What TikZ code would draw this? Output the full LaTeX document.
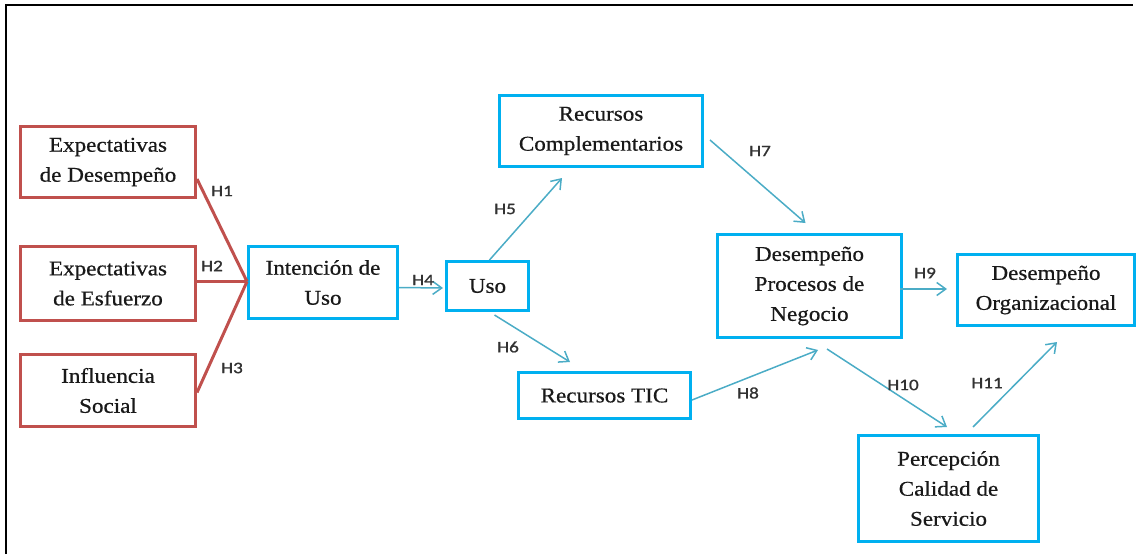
\documentclass[tikz,border=0pt]{standalone}
\usepackage{fontspec}
\setmainfont{Liberation Serif}[FakeStretch=1.1,FakeBold=0.6,AutoFakeBold=0.6]
\newfontfamily\labfont{Carlito}[FakeStretch=1.2,FakeBold=1.2]
\usetikzlibrary{arrows.meta,calc}
\definecolor{boxred}{RGB}{192,80,77}
\definecolor{boxblue}{RGB}{0,176,240}
\definecolor{linkblue}{RGB}{75,172,198}
\definecolor{labgray}{RGB}{50,50,50}
\begin{document}
\begin{tikzpicture}[x=1pt,y=-1pt,
  box/.style={draw, line width=3pt, inner sep=0pt, align=center,
    font=\fontsize{21}{30}\selectfont, text=black!90},
  redbox/.style={box, draw=boxred},
  bluebox/.style={box, draw=boxblue},
  link/.style={draw=linkblue, line width=1.5pt,
    -{Straight Barb[length=9pt,width=13pt]}},
  redlink/.style={draw=boxred, line width=3pt},
  hlab/.style={font=\labfont\fontsize{16}{17}\selectfont, text=labgray, inner sep=0pt}]

\useasboundingbox (0,0) rectangle (1142,554);

% open frame: top and left edges only
\draw[line width=2.5pt] (6,554) -- (6,5) -- (1133,5);

% antecedents (red)
\node[redbox, minimum width=175pt, minimum height=71pt] (ED) at (108,162) {Expectativas\\de Desempeño};
\node[redbox, minimum width=175pt, minimum height=74pt] (EE) at (108,283.5) {Expectativas\\de Esfuerzo};
\node[redbox, minimum width=175pt, minimum height=72pt] (IS) at (108,390.5) {Influencia\\Social};

% constructs (blue)
\node[bluebox, minimum width=149pt, minimum height=72pt] (IdU) at (323,282.5) {Intención de\\Uso};
\node[bluebox, minimum width=82pt, minimum height=49pt] (Uso) at (487.5,286) {Uso};
\node[bluebox, minimum width=203pt, minimum height=71pt] (RC) at (601,131) {Recursos\\Complementarios};
\node[bluebox, minimum width=172pt, minimum height=46pt] (RTIC) at (604.5,395.5) {Recursos TIC};
\node[bluebox, minimum width=184pt, minimum height=103pt] (DPN) at (809.5,286) {Desempeño\\Procesos de\\Negocio};
\node[bluebox, minimum width=177pt, minimum height=71pt] (DO) at (1046,290) {Desempeño\\Organizacional};
\node[bluebox, minimum width=180pt, minimum height=106pt] (PCS) at (948.5,488.5) {Percepción\\Calidad de\\Servicio};

% red links into Intención de Uso
\draw[redlink] ($(ED.east)+(0,17)$) -- ($(IdU.west)+(0,-1)$);
\draw[redlink] ($(EE.east)+(0,-2)$) -- ($(IdU.west)+(0,-1)$);
\draw[redlink] ($(IS.east)+(0,2)$) -- ($(IdU.west)+(0,-1)$);

% blue arrows
\draw[link] ($(IdU.east)+(0,5)$) -- ($(Uso.west)+(-2,2)$);
\draw[link] ($(Uso.north)+(2,0)$) -- ($(RC.south)+(-39,10)$);
\draw[link] ($(Uso.south)+(7,3)$) -- ($(RTIC.north)+(-34.5,-9)$);
\draw[link] ($(RC.east)+(6,9)$) -- ($(DPN.north)+(-4,-10)$);
\draw[link] ($(RTIC.east)+(0,4.5)$) -- ($(DPN.south)+(8.5,11)$);
\draw[link] ($(DPN.east)+(-3,3)$) -- ($(DO.west)+(-9,-1)$);
\draw[link] ($(DPN.south)+(17.5,10)$) -- ($(PCS.north)+(-1.5,-7)$);
\draw[link] ($(PCS.north)+(24.5,-7)$) -- ($(DO.south)+(11,15)$);

% hypothesis labels
\node[hlab] (h1) at (222,191) {H1};
\node[hlab] (h2) at (212,266) {H2};
\node[hlab] (h3) at (232,368) {H3};
\node[hlab] (h4) at (423,280) {H4};
\node[hlab] (h5) at (505,209) {H5};
\node[hlab] (h6) at (508,347) {H6};
\node[hlab] (h7) at (760,151) {H7};
\node[hlab] (h8) at (748,393) {H8};
\node[hlab] (h9) at (925,273) {H9};
\node[hlab] (h10) at (903,385) {H10};
\node[hlab] (h11) at (987,383) {H11};
\end{tikzpicture}
\end{document}
